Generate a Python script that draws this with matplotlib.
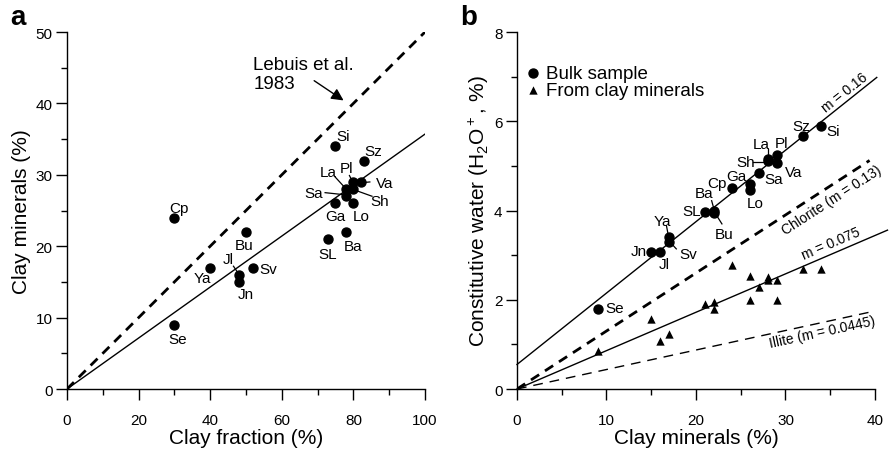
import numpy as np
import matplotlib
matplotlib.use("Agg")
import matplotlib.pyplot as plt
from matplotlib.ticker import MultipleLocator

plt.rcParams["font.family"] = ["Liberation Sans", "DejaVu Sans"]
plt.rcParams["mathtext.fontset"] = "custom"
plt.rcParams["mathtext.rm"] = "Liberation Sans"

# ---- data -------------------------------------------------------------
samples = ["Cp", "Se", "Ya", "Bu", "Jl", "Jn", "Sv", "Si", "Sz",
           "Pl", "Va", "La", "Sh", "Sa", "Ga", "Lo", "Ba", "SL"]
clay_fraction = [30, 30, 40, 50, 48, 48, 52, 75, 83,
                 80, 82, 78, 80, 78, 75, 80, 78, 73]
clay_minerals = [24, 9, 17, 22, 16, 15, 17, 34, 32,
                 29, 29, 28, 28, 27, 26, 26, 22, 21]
bulk_water = [4.5, 1.8, 3.4, 3.95, 3.08, 3.08, 3.3, 5.9, 5.66,
              5.25, 5.06, 5.15, 5.1, 4.84, 4.6, 4.45, 4.0, 3.96]

tri_x = [9, 15, 16, 17, 21, 22, 22, 24, 26, 26, 27, 28, 28, 29, 29, 32, 34]
tri_y = [0.85, 1.58, 1.08, 1.23, 1.90, 1.96, 1.79, 2.78, 2.54, 1.99,
         2.28, 2.52, 2.45, 2.45, 1.99, 2.69, 2.69]

lebuis_slope = 0.5
fit_a_slope = 0.357
bulk_slope, bulk_icpt = 0.16, 0.55
chlorite_slope = 0.13
clay_fit_slope = 0.086
illite_slope = 0.0437

# label placement (data coords)
lab_a = {"Si": (77.2, 35.5), "Sz": (85.6, 33.4), "La": (73.0, 30.4),
         "Pl": (78.1, 31.0), "Va": (88.8, 28.9), "Sa": (68.8, 27.5),
         "Sh": (87.4, 26.4), "Ga": (75.1, 24.3), "Lo": (82.1, 24.2),
         "Cp": (31.3, 25.4), "Bu": (49.5, 20.2), "SL": (72.8, 18.9),
         "Ba": (79.8, 20.1), "Jl": (44.9, 18.2), "Ya": (37.9, 15.5),
         "Sv": (56.2, 16.8), "Jn": (49.9, 13.3), "Se": (31.0, 7.0)}
lead_a = [((74.9, 29.7), (78, 28)), ((72.1, 27.5), (77.7, 27.2)),
          ((84.6, 29.0), (82.4, 28.9)), ((85.2, 27.0), (80.2, 27.9)),
          ((46.5, 17.2), (47.7, 16.3)), ((78.9, 29.9), (79.8, 29.0))]

lab_b = {"Se": (10.95, 1.82), "Jn": (13.6, 3.10), "Jl": (16.5, 2.80),
         "Ya": (16.3, 3.77), "Sv": (19.1, 3.03), "SL": (19.5, 3.98),
         "Ba": (20.9, 4.39), "Bu": (23.2, 3.48), "Cp": (22.3, 4.62),
         "Ga": (24.5, 4.77), "Lo": (26.6, 4.17), "Sa": (28.7, 4.71),
         "Sh": (25.5, 5.08), "La": (27.3, 5.48), "Pl": (29.6, 5.52),
         "Va": (30.9, 4.87), "Sz": (31.8, 5.90), "Si": (35.3, 5.79)}
lead_b = [((16.7, 3.66), (16.9, 3.45)), ((17.3, 3.25), (17.8, 3.14)),
          ((21.75, 4.22), (22.0, 4.04)), ((22.3, 3.89), (22.9, 3.70)),
          ((26.4, 5.08), (27.7, 5.08)), ((28.0, 5.37), (28.0, 5.17))]

# ---- figure -----------------------------------------------------------
fig = plt.figure(figsize=(8.9, 4.56), dpi=100)
ax1 = fig.add_axes([0.0753, 0.1447, 0.4022, 0.7829])
ax2 = fig.add_axes([0.5809, 0.1447, 0.4022, 0.7829])

def style_axes(ax):
    for s in ("top", "right"):
        ax.spines[s].set_visible(False)
    for s in ("left", "bottom"):
        ax.spines[s].set_linewidth(1.0)
    ax.tick_params(which="major", direction="out", length=8, width=1.0,
                   labelsize=11)
    ax.tick_params(which="minor", direction="out", length=4, width=1.0)
    ax.tick_params(axis="x", pad=9)
    ax.tick_params(axis="y", pad=2.5)

# panel a
xa = np.array([0, 100])
ax1.plot(xa, lebuis_slope * xa, ls=(0, (3.5, 2.5)), lw=2.0, color="black")
ax1.plot(xa, fit_a_slope * xa, lw=1.0, color="black")
ax1.scatter(clay_fraction, clay_minerals, s=42, color="black", zorder=3)
for (p0, p1) in lead_a:
    ax1.plot([p0[0], p1[0]], [p0[1], p1[1]], lw=0.9, color="black")
for name, (lx, ly) in lab_a.items():
    ax1.text(lx, ly, name, fontsize=11, ha="center", va="center")
ax1.text(52, 44.1, "Lebuis et al.\n1983", fontsize=13.5, ha="left",
         va="center", linespacing=1.12)
ax1.annotate("", xy=(77.9, 40.2), xytext=(68.4, 43.4),
             arrowprops=dict(arrowstyle="-|>", color="black", lw=1.0,
                             mutation_scale=18))
ax1.set_xlim(0, 100)
ax1.set_ylim(0, 50)
ax1.xaxis.set_major_locator(MultipleLocator(20))
ax1.xaxis.set_minor_locator(MultipleLocator(10))
ax1.yaxis.set_major_locator(MultipleLocator(10))
ax1.yaxis.set_minor_locator(MultipleLocator(5))
style_axes(ax1)
ax1.set_xlabel("Clay fraction (%)", fontsize=15, labelpad=1)
ax1.set_ylabel("Clay minerals (%)", fontsize=15, labelpad=3)

# panel b
xb = np.array([0, 40.2])
ax2.plot(xb, bulk_slope * xb + bulk_icpt, lw=1.0, color="black", clip_on=False)
ax2.plot([0, 39.4], chlorite_slope * np.array([0, 39.4]),
         ls=(0, (3.5, 2.5)), lw=2.0, color="black")
ax2.plot([0, 41.4], clay_fit_slope * np.array([0, 41.4]), lw=1.0,
         color="black", clip_on=False)
ax2.plot([0, 39.4], illite_slope * np.array([0, 39.4]),
         ls=(0, (7, 5)), lw=1.0, color="black")
ax2.scatter(clay_minerals, bulk_water, s=42, color="black", zorder=3,
            label="Bulk sample")
ax2.scatter(tri_x, tri_y, s=36, marker="^", color="black", zorder=3,
            label="From clay minerals", linewidths=0)
for (p0, p1) in lead_b:
    ax2.plot([p0[0], p1[0]], [p0[1], p1[1]], lw=0.9, color="black")
for name, (lx, ly) in lab_b.items():
    ax2.text(lx, ly, name, fontsize=11, ha="center", va="center")

ax2.set_xlim(0, 40)
ax2.set_ylim(0, 8)

def line_text(ax, x, s, slope, icpt=0.0, above=True, gap=1.0):
    p0 = ax.transData.transform((0, icpt))
    p1 = ax.transData.transform((40, icpt + 40 * slope))
    ang = np.arctan2(p1[1] - p0[1], p1[0] - p0[0])
    sgn = 1 if above else -1
    off = (-np.sin(ang) * gap * sgn, np.cos(ang) * gap * sgn)
    ax.annotate(s, xy=(x, icpt + slope * x), xytext=off,
                textcoords="offset points", fontsize=10, ha="center",
                va="bottom" if above else "top",
                rotation=np.degrees(ang), rotation_mode="anchor")

line_text(ax2, 37.2, "m = 0.16", bulk_slope, bulk_icpt, above=True)
line_text(ax2, 34.4, "Chlorite (m = 0.13)", chlorite_slope, above=False,
          gap=3.5)
line_text(ax2, 35.5, "m = 0.075", clay_fit_slope, above=True, gap=2.5)
line_text(ax2, 33.9, "Illite (m = 0.0445)", illite_slope, above=False,
          gap=1.5)

ax2.legend(loc="upper left", bbox_to_anchor=(-0.02, 0.94), frameon=False,
           fontsize=13.5, handletextpad=0.05, borderaxespad=0.2,
           labelspacing=0.0, handlelength=1.3, markerscale=1.0)
ax2.xaxis.set_major_locator(MultipleLocator(10))
ax2.xaxis.set_minor_locator(MultipleLocator(5))
ax2.yaxis.set_major_locator(MultipleLocator(2))
ax2.yaxis.set_minor_locator(MultipleLocator(1))
style_axes(ax2)
ax2.set_xlabel("Clay minerals (%)", fontsize=15, labelpad=1)
ax2.set_ylabel("Constitutive water (H$_2$O$^+$, %)", fontsize=15,
               labelpad=2)

fig.text(0.012, 0.988, "a", fontsize=20, fontweight="bold", va="top")
fig.text(0.517, 0.988, "b", fontsize=20, fontweight="bold", va="top")

fig.savefig("out.png", dpi=100)
